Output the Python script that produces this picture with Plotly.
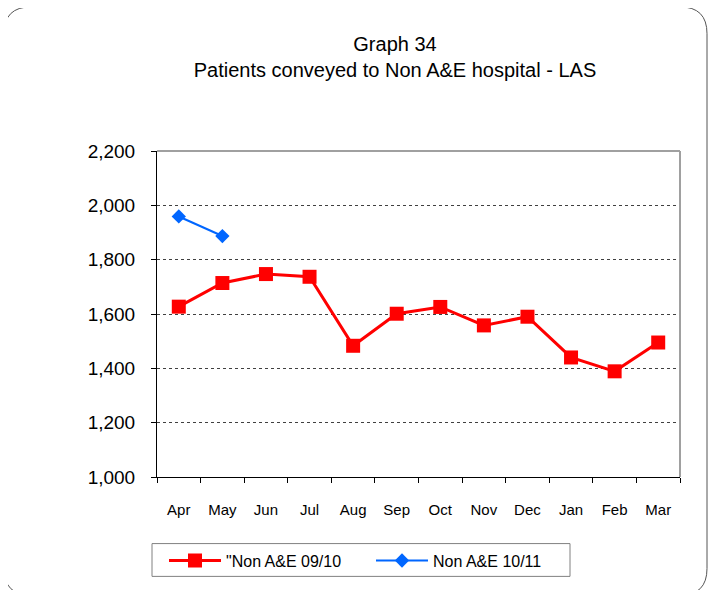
import plotly.graph_objects as go

months = ["Apr", "May", "Jun", "Jul", "Aug", "Sep", "Oct", "Nov", "Dec", "Jan", "Feb", "Mar"]
series_0910 = [1627, 1714, 1747, 1737, 1483, 1601, 1626, 1558, 1590, 1440, 1389, 1495]
months_1011 = ["Apr", "May"]
series_1011 = [1959, 1887]
y_ticks = [1000, 1200, 1400, 1600, 1800, 2000, 2200]

# page offset (browser body margin)
OX, OY = 8, 8
W, H = 717 - OX, 590 - OY
# plot area in reference page pixels
PX0, PX1, PY0, PY1 = 157, 680, 151, 479
L, R, T, B = PX0 - OX, W - (PX1 - OX), PY0 - OY, H - (PY1 - OY)
PW, PH = PX1 - PX0, PY1 - PY0

def px(x):
    return (x - PX0) / PW

def py(y):
    return (PY1 - y) / PH

fig = go.Figure()
fig.add_trace(go.Scatter(
    x=months, y=series_0910, name='"Non A&E 09/10', mode="lines+markers",
    line=dict(color="#ff0000", width=3),
    marker=dict(symbol="square", size=14, color="#ff0000"),
))
fig.add_trace(go.Scatter(
    x=months_1011, y=series_1011, name="Non A&E 10/11", mode="lines+markers",
    line=dict(color="#0066ff", width=2),
    marker=dict(symbol="diamond", size=11, color="#0066ff"),
))

# rounded outer border (reference page pixels)
x0, x1, y0, y1, r = 4, 707, 6, 598, 27
rx, ry = r / PW, r / PH
path = (
    f"M {px(x0)+rx},{py(y0)} L {px(x1)-rx},{py(y0)} Q {px(x1)},{py(y0)} {px(x1)},{py(y0)-ry} "
    f"L {px(x1)},{py(y1)+ry} Q {px(x1)},{py(y1)} {px(x1)-rx},{py(y1)} "
    f"L {px(x0)+rx},{py(y1)} Q {px(x0)},{py(y1)} {px(x0)},{py(y1)+ry} "
    f"L {px(x0)},{py(y0)-ry} Q {px(x0)},{py(y0)} {px(x0)+rx},{py(y0)} Z"
)
shapes = [
    dict(type="path", xref="paper", yref="paper", path=path,
         line=dict(color="#555555", width=1), layer="below"),
    dict(type="line", xref="paper", yref="paper", x0=0, x1=1, y0=1, y1=1,
         line=dict(color="#a0a0a0", width=2)),
    dict(type="line", xref="paper", yref="paper", x0=1, x1=1, y0=0, y1=1,
         line=dict(color="#a0a0a0", width=2)),
    # legend box
    dict(type="rect", xref="paper", yref="paper",
         x0=px(152), x1=px(570), y0=py(579), y1=py(546),
         line=dict(color="#808080", width=1)),
]

fig.update_layout(
    width=W, height=H,
    margin=dict(l=L, r=R, t=T, b=B),
    paper_bgcolor="white", plot_bgcolor="white",
    font=dict(family="Liberation Sans, Arial, sans-serif", color="black"),
    title=dict(
        text="Graph 34<br>Patients conveyed to Non A&E hospital - LAS",
        xref="container", x=(395 - OX) / W, xanchor="center",
        yref="container", y=1 - 43 / H, yanchor="top",
        font=dict(size=20),
    ),
    showlegend=True,
    legend=dict(
        orientation="h", x=px(164), xanchor="left", y=py(546), yanchor="top",
        bgcolor="rgba(0,0,0,0)", borderwidth=0, font=dict(size=16),
        entrywidth=140, itemwidth=52,
    ),
    shapes=shapes,
    xaxis=dict(
        type="category", categoryorder="array", categoryarray=months,
        range=[-0.5, 11.5], showgrid=False, showline=True, linecolor="black", linewidth=1,
        ticks="outside", ticklen=5, tickcolor="black", tickson="boundaries",
        tickfont=dict(size=15), ticklabelstandoff=19,
    ),
    yaxis=dict(
        range=[1000, 2200], tickvals=y_ticks, tickformat=",d",
        showgrid=True, gridcolor="#404040", griddash="dot", gridwidth=1,
        showline=True, linecolor="black", linewidth=1,
        ticks="outside", ticklen=5, tickcolor="black",
        tickfont=dict(size=19), ticklabelstandoff=12, zeroline=False,
    ),
)

fig.write_html("out.html")
